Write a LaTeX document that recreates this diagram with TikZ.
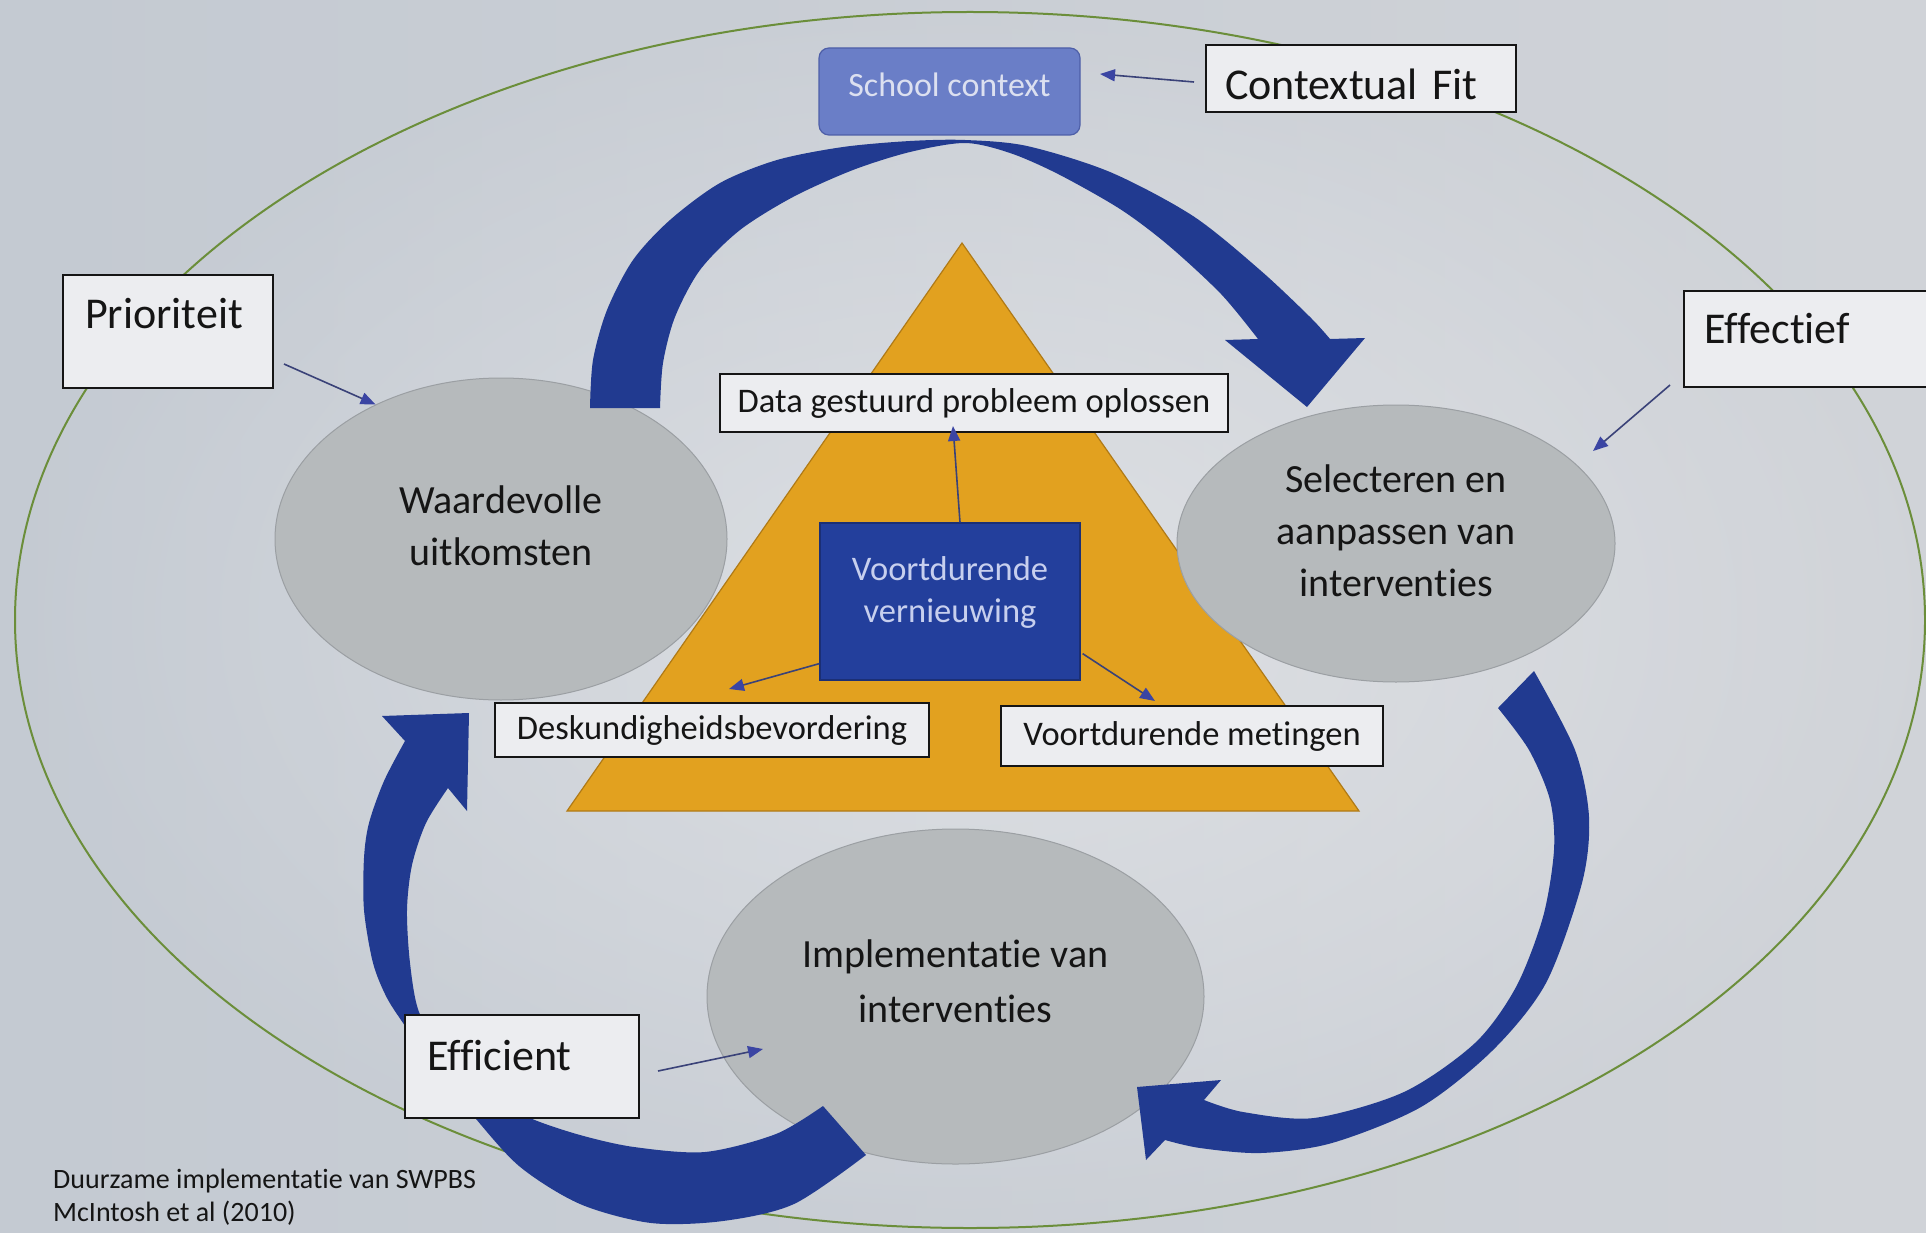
\documentclass[tikz,border=0pt]{standalone}
\usepackage{fontspec}
\setmainfont{Carlito}[Ligatures=NoCommon]
\usetikzlibrary{arrows.meta,shapes.geometric}
\definecolor{bgleft}{HTML}{C0C7D0}
\definecolor{bgright}{HTML}{DADBDE}
\definecolor{bgin}{HTML}{EDEEF0}
\definecolor{bgout}{HTML}{C8CDD4}
\definecolor{navy}{HTML}{213A90}
\definecolor{gold}{HTML}{E2A11F}
\definecolor{goldline}{HTML}{B07A16}
\definecolor{cellgray}{HTML}{B6BABC}
\definecolor{cellline}{HTML}{9B9FA3}
\definecolor{boxfill}{HTML}{ECEDF0}
\definecolor{deepblue}{HTML}{233F9C}
\definecolor{deepline}{HTML}{1B2F75}
\definecolor{schoolblue}{HTML}{6A7EC7}
\definecolor{schoolline}{HTML}{4E5FA8}
\definecolor{schooltext}{HTML}{DCE0F0}
\definecolor{vvtext}{HTML}{C7CFEE}
\definecolor{ringgreen}{HTML}{6B8E3A}
\definecolor{ink}{HTML}{151515}
\definecolor{pointerline}{HTML}{3A4278}
\definecolor{pointertip}{HTML}{3B45A3}
\begin{document}
\begin{tikzpicture}[x=1pt,y=-1pt,
  ringline/.style={draw=ringgreen,line width=2pt},
  labelbox/.style={draw=ink,line width=2pt,fill=boxfill,rectangle,inner ysep=0pt,text=ink},
  bigfont/.style={font=\fontsize{44}{52}\selectfont},
  midfont/.style={font=\fontsize{34.5}{44}\selectfont},
  cellstyle/.style={ellipse,fill=cellgray,draw=cellline,line width=1pt,inner sep=0pt,align=center,text=ink,font=\fontsize{40}{52}\selectfont},
  pointer/.style={draw=pointerline,line width=1.6pt,-{Triangle[length=15pt,width=12pt,color=pointertip]}},
  blockarrow/.style={fill=navy}]
\useasboundingbox (0,0) rectangle (1926,1233);
\clip (0,0) rectangle (1926,1233);
\shade[left color=bgleft,right color=bgright] (0,0) rectangle (1926,1233);
\shade[inner color=bgin,outer color=bgout,opacity=0.5] (0,0) rectangle (1926,1233);
\draw[ringline] (970,620) ellipse [x radius=955, y radius=608];

% central triangle
\filldraw[fill=gold,draw=goldline,line width=1.2pt] (962,243) -- (1359,811) -- (567,811) -- cycle;

% three process ellipses
\node[cellstyle,minimum width=452pt,minimum height=322pt,text depth=26pt] (waard) at (501,539) {Waardevolle\\uitkomsten};
\node[cellstyle,minimum width=438pt,minimum height=277pt,text depth=25pt] (sel) at (1396,543.5) {Selecteren en\\aanpassen van\\interventies};
\node[cellstyle,minimum width=497pt,minimum height=335pt,text depth=30pt,font=\fontsize{40}{55}\selectfont] (impl) at (955.5,996.5) {Implementatie van\\interventies};

% big curved arrows
\fill[blockarrow] plot[smooth] coordinates {(590,408) (593,360) (607,310) (633,260) (670,220) (720,183) (777,160) (843,147) (910,141) (965,140) (1027,146) (1110,172) (1193,216) (1260,270) (1310,317) (1330,339)}
  -- (1365,338) -- (1307,407) -- (1225,340) -- (1258,339)
  -- plot[smooth] coordinates {(1258,339) (1221,294) (1168,245) (1120,209) (1058,174) (1010,153) (965,143) (910,152) (853,170) (793,197) (740,230) (700,270) (675,317) (663,363) (660,408)} -- cycle;

\fill[blockarrow] plot[smooth] coordinates {(1534,671) (1575,750) (1589,817) (1582,883) (1546,983) (1493,1050) (1421,1107) (1332,1143) (1261,1153) (1200,1148) (1165,1140)}
  -- (1146,1160) -- (1137,1087) -- (1221,1080) -- (1204,1100)
  -- plot[smooth] coordinates {(1204,1100) (1243,1112) (1314,1118) (1404,1092) (1475,1043) (1516,987) (1543,917) (1554,850) (1550,800) (1529,750) (1498,708)} -- cycle;

\fill[blockarrow] plot[smooth] coordinates {(866,1155) (794,1204) (723,1221) (651,1223) (580,1204) (519,1166) (470,1112) (430,1065) (407,1029) (387,998) (373,963) (364,910) (364,858) (369,823) (384,781) (405,741)}
  -- (382,716) -- (469,713) -- (467,811) -- (448,788)
  -- plot[smooth] coordinates {(448,788) (426,823) (412,865) (407,910) (410,963) (419,1012) (445,1055) (490,1095) (530,1118) (580,1135) (634,1147) (705,1152) (776,1134) (823,1106)} -- cycle;

% boxes
\node[rectangle,rounded corners=10pt,fill=schoolblue,draw=schoolline,line width=1.2pt,minimum width=261pt,minimum height=87pt,text=schooltext,font=\fontsize{34}{40}\selectfont,text depth=13pt] (school) at (949.5,91.5) {School context};
\node[labelbox,bigfont,minimum width=310pt,minimum height=67pt,text width=272pt,inner xsep=19pt,align=left,text height=43pt] (ctx) at (1361,78.5) {Contextual Fit};
\node[labelbox,bigfont,minimum width=210pt,minimum height=113pt,text width=166pt,inner xsep=22pt,align=left,text depth=37pt] (prio) at (168,331.5) {Prioriteit};
\node[labelbox,bigfont,minimum width=256pt,minimum height=96pt,text width=216pt,inner xsep=20pt,align=left,text depth=22pt] (eff) at (1812,339) {Effectief};
\node[labelbox,bigfont,minimum width=234pt,minimum height=103pt,text width=190pt,inner xsep=22pt,align=left,text depth=23pt] (effi) at (522,1066.5) {Efficient};
\node[labelbox,midfont,minimum width=508pt,minimum height=58pt] (data) at (974,403) {Data gestuurd probleem oplossen};
\node[labelbox,midfont,minimum width=434pt,minimum height=54pt] (desk) at (712,730) {Deskundigheidsbevordering};
\node[labelbox,midfont,minimum width=382pt,minimum height=60pt] (met) at (1192,736) {Voortdurende metingen};
\node[rectangle,fill=deepblue,draw=deepline,line width=1.2pt,minimum width=260pt,minimum height=157pt,align=center,text=vvtext,font=\fontsize{34.5}{42}\selectfont,text depth=23pt] (vv) at (950,601.5) {Voortdurende\\vernieuwing};

\node[anchor=north west,align=left,font=\fontsize{28}{33}\selectfont,text=ink,inner sep=0pt] (foot) at (53,1169) {Duurzame implementatie van SWPBS\\McIntosh et al (2010)};

% pointers
\coordinate (schoolTip) at (1100,74);
\coordinate (efTip) at (1593,451);
\coordinate (effiTip) at (763,1049);
\draw[pointer] ([xshift=-11pt,yshift=-3.5pt]ctx.west) -- (schoolTip);
\draw[pointer] ([xshift=10pt,yshift=25pt]prio.south east) -- (waard.133.5);
\draw[pointer] ([xshift=-13pt,yshift=3pt]eff.south west) -- (efTip);
\draw[pointer] ([xshift=18pt,yshift=-4.5pt]effi.east) -- (effiTip);
\draw[pointer] ([xshift=10pt]vv.north) -- ([xshift=-21pt,yshift=7pt]data.south);
\draw[pointer] ([yshift=17pt]vv.south west) -- ([xshift=17pt,yshift=13pt]desk.north);
\draw[pointer] ([xshift=2pt,yshift=27pt]vv.south east) -- ([xshift=-37pt,yshift=4pt]met.north);
\end{tikzpicture}
\end{document}
